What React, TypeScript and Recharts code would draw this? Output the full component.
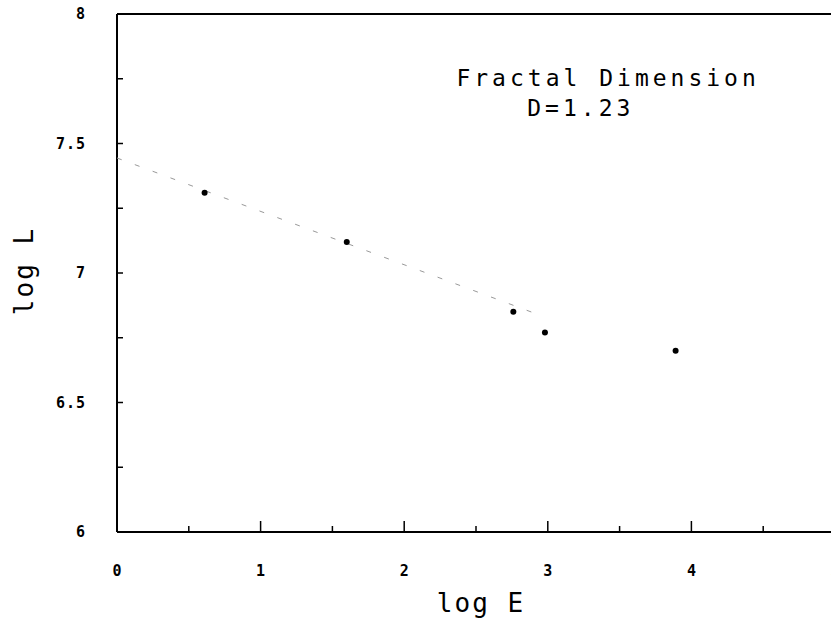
import { ComposedChart, Scatter, XAxis, YAxis, ReferenceLine, ReferenceDot } from 'recharts'

// measured points
const logE = [0.61, 1.6, 2.76, 2.98, 3.89]
const logL = [7.31, 7.12, 6.85, 6.77, 6.7]

// fitted line (slope ~ -0.21)
const fitE = [0, 2.97]
const fitL = [7.444, 6.832]

const xTicks = [0, 0.5, 1, 1.5, 2, 2.5, 3, 3.5, 4, 4.5, 5]
const yTicks = [6, 6.25, 6.5, 6.75, 7, 7.25, 7.5, 7.75, 8]

const titleLines = ['Fractal Dimension', 'D=1.23']

const points = logE.map((x, i) => ({ x, y: logL[i] }))
const fit = fitE.map((x, i) => ({ x, y: fitL[i] }))

const MONO = '"DejaVu Sans Mono", monospace'

const XTick = ({ x, y, payload }: any) => {
  const v = payload.value
  const major = Number.isInteger(v)
  return (
    <g>
      <line x1={x} x2={x} y1={y} y2={y - (major ? 11 : 6)} stroke="#000" strokeWidth={1.5} />
      {major && (
        <text x={x} y={y + 44} textAnchor="middle" fontFamily={MONO} fontWeight="bold" fontSize={15} fill="#000">
          {v}
        </text>
      )}
    </g>
  )
}

const YTick = ({ x, y, payload }: any) => {
  const v = payload.value
  const labeled = v * 2 === Math.round(v * 2)
  return (
    <g>
      <line x1={x} x2={x + 6} y1={y} y2={y} stroke="#000" strokeWidth={1.5} />
      {labeled && (
        <text x={x - 31} y={y} dy="0.35em" textAnchor="end" fontFamily={MONO} fontWeight="bold" fontSize={15} letterSpacing={1} fill="#000">
          {v}
        </text>
      )}
    </g>
  )
}

const Dot = ({ cx, cy }: any) => <circle cx={cx} cy={cy} r={3} fill="#000" />
const NoDot = () => <g />

const textLabel = (txt: string) => ({ viewBox }: any) => (
  <text
    x={viewBox.x}
    y={viewBox.y}
    dy="0.35em"
    textAnchor="middle"
    fontFamily={MONO}
    fontSize={23}
    letterSpacing={4}
    fill="#000"
  >
    {txt}
  </text>
)

export default function App() {
  return (
    <div style={{ position: 'absolute', left: 0, top: 0, width: 831, height: 622, overflow: 'hidden', background: '#fff' }}>
      <ComposedChart width={845} height={622} margin={{ top: 14, right: 10, left: 0, bottom: 0 }}>
        <XAxis
          type="number"
          dataKey="x"
          domain={[0, 5]}
          ticks={xTicks}
          interval={0}
          allowDataOverflow
          height={90}
          tickSize={0}
          tickMargin={0}
          tickLine={false}
          tick={<XTick />}
          axisLine={{ stroke: '#000', strokeWidth: 2 }}
          label={{
            content: ({ viewBox }: any) => (
              <text
                x={viewBox.x + viewBox.width / 2 + 5}
                y={viewBox.y + 80}
                textAnchor="middle"
                fontFamily={MONO}
                fontSize={26}
                letterSpacing={2}
                fill="#000"
              >
                log E
              </text>
            ),
          }}
        />
        <YAxis
          type="number"
          dataKey="y"
          domain={[6, 8]}
          ticks={yTicks}
          interval={0}
          allowDataOverflow
          width={117}
          tickSize={0}
          tickMargin={0}
          tickLine={false}
          tick={<YTick />}
          axisLine={{ stroke: '#000', strokeWidth: 2 }}
          label={{
            content: ({ viewBox }: any) => {
              const cx = viewBox.x + 24
              const cy = viewBox.y + viewBox.height / 2 - 2
              return (
                <text
                  x={cx}
                  y={cy}
                  dy="0.35em"
                  textAnchor="middle"
                  transform={`rotate(-90 ${cx} ${cy})`}
                  fontFamily={MONO}
                  fontSize={26}
                  letterSpacing={2}
                  fill="#000"
                >
                  log L
                </text>
              )
            },
          }}
        />
        <ReferenceLine y={8} stroke="#000" strokeWidth={2} />
        <Scatter
          data={fit}
          line={{ stroke: '#999', strokeWidth: 1, strokeDasharray: '5 14' }}
          shape={<NoDot />}
          isAnimationActive={false}
        />
        <Scatter data={points} shape={<Dot />} isAnimationActive={false} />
        <ReferenceDot x={3.42} y={7.753} r={0} fill="none" stroke="none" label={{ content: textLabel(titleLines[0]) }} />
        <ReferenceDot x={3.23} y={7.637} r={0} fill="none" stroke="none" label={{ content: textLabel(titleLines[1]) }} />
      </ComposedChart>
    </div>
  )
}
